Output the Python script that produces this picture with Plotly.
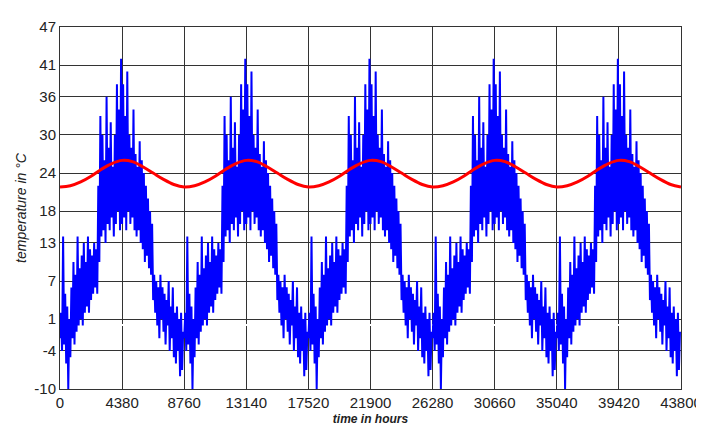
import plotly.graph_objects as go

YEAR_HOURS = 8760
N_YEARS = 5
STEP = 146  # hours between read samples

# blue: per-year hourly temperature, read as alternating lows/highs (°C)
lows = [-2, -4, -3, -6, -10, -5, -2, -3, -1, 0,
        1, 0, 2, 3, 2, 4, 5, 6, 5, 10,
        14, 15, 13, 16, 15, 17, 14, 16, 18, 15,
        16, 17, 15, 18, 16, 17, 15, 14, 15, 13,
        12, 10, 11, 9, 8, 4, 2, 0, -2, 1,
        -1, -3, 0, -4, -2, -5, -6, -4, -8, -7]
highs = [2, 14, 5, 3, 1, 6, 10, 8, 14, 9,
         11, 13, 10, 14, 12, 11, 13, 12, 22, 33,
         30, 26, 36, 28, 32, 25, 30, 38, 34, 42,
         38, 33, 40, 30, 28, 34, 27, 25, 29, 26,
         24, 22, 20, 18, 16, 8, 7, 6, 8, 6,
         5, 4, 7, 3, 6, 2, 3, 1, 2, -1]
# red: per-year smooth temperature, monthly (°C)
smooth = [21.8, 22.0, 22.6, 23.5, 24.6, 25.5, 26.0, 25.8, 25.0, 24.0, 23.0, 22.2, 21.8]

yticks = [-10, -4, 1, 7, 13, 18, 24, 30, 36, 41, 47]
xticks = [0, 4380, 8760, 13140, 17520, 21900, 26280, 30660, 35040, 39420, 43800]

bx, by = [], []
for yr in range(N_YEARS):
    for i, (lo, hi) in enumerate(zip(lows, highs)):
        base = yr * YEAR_HOURS + i * STEP
        bx += [base, base + STEP / 2]
        by += [lo, hi]
rx, ry = [], []
for yr in range(N_YEARS):
    for i, v in enumerate(smooth[:-1] if yr < N_YEARS - 1 else smooth):
        rx.append(yr * YEAR_HOURS + i * YEAR_HOURS / 12)
        ry.append(v)

fig = go.Figure()
fig.add_trace(go.Scatter(x=bx, y=by, mode="lines", line=dict(color="#0000ff", width=2)))
fig.add_trace(go.Scatter(x=rx, y=ry, mode="lines", line=dict(color="#ff0000", width=3, shape="spline")))
fig.update_layout(
    width=704, height=431, showlegend=False,
    margin=dict(l=52, r=24, t=10, b=50),
    paper_bgcolor="white", plot_bgcolor="white",
    font=dict(family="Arial, Liberation Sans", size=15, color="#222"),
)
fig.update_xaxes(range=[0, 43800], tickvals=xticks, ticktext=[str(t) for t in xticks],
                 showgrid=True, gridcolor="#333", gridwidth=1, showline=True, linecolor="#333", mirror=True,
                 title=dict(text="<b><i>time in hours</i></b>", font=dict(size=12), standoff=4))
fig.update_yaxes(range=[-10, 47], tickvals=yticks, ticktext=[str(t) for t in yticks],
                 showgrid=True, gridcolor="#333", gridwidth=1, showline=True, linecolor="#333", mirror=True,
                 title=dict(text="<i>temperature in °C</i>", font=dict(size=14), standoff=4))
fig.write_html("out.html")
